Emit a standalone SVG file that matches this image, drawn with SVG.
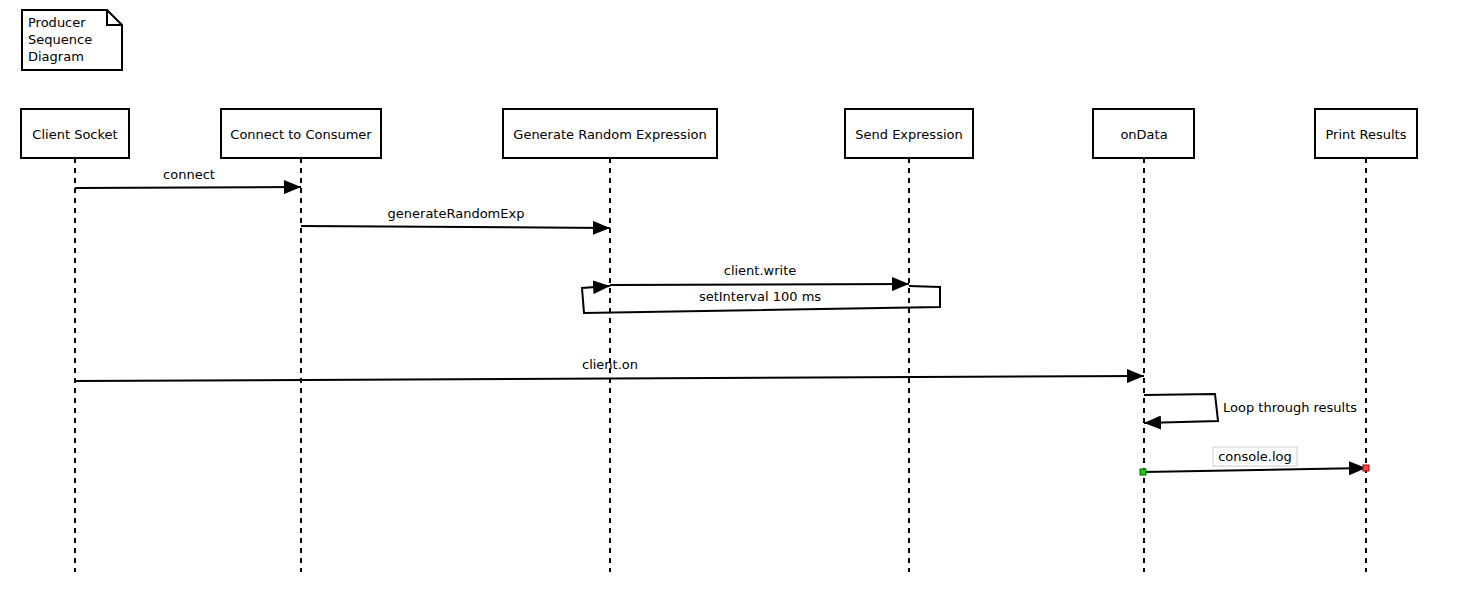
<svg xmlns="http://www.w3.org/2000/svg" width="1466" height="614" viewBox="0 0 1466 614">
<style>
text{font-family:"DejaVu Sans",sans-serif;font-size:13px;fill:#000}
.box{fill:#fff;stroke:#000;stroke-width:2}
.life{stroke:#000;stroke-width:2;stroke-dasharray:5,5;fill:none}
.msg{stroke:#000;stroke-width:2;fill:none;marker-end:url(#arr)}
.mid{text-anchor:middle}
</style>
<defs>
<marker id="arr" markerWidth="17" markerHeight="14" refX="17" refY="7" orient="auto" markerUnits="userSpaceOnUse">
<path d="M0,0 L17,7 L0,14 Z" fill="#000"/>
</marker>
</defs>
<rect width="1466" height="614" fill="#fff"/>
<g id="note">
<path d="M22,10 H107 L122,25 V70 H22 Z" class="box"/>
<path d="M107,10 V25 H122" fill="none" stroke="#000" stroke-width="2"/>
<text x="28" y="27">Producer</text>
<text x="28" y="44">Sequence</text>
<text x="28" y="61">Diagram</text>
</g>
<g id="lifelines">
<line x1="75" y1="158" x2="75" y2="572" class="life"/>
<line x1="301" y1="158" x2="301" y2="572" class="life"/>
<line x1="610" y1="158" x2="610" y2="572" class="life"/>
<line x1="909" y1="158" x2="909" y2="572" class="life"/>
<line x1="1144" y1="158" x2="1144" y2="572" class="life"/>
<line x1="1366" y1="158" x2="1366" y2="572" class="life"/>
</g>
<g id="n1"><rect x="21" y="109" width="108" height="49" class="box"/><text x="75" y="139" class="mid">Client Socket</text></g>
<g id="n2"><rect x="221" y="109" width="160" height="49" class="box"/><text x="301" y="139" class="mid">Connect to Consumer</text></g>
<g id="n3"><rect x="503" y="109" width="214" height="49" class="box"/><text x="610" y="139" class="mid">Generate Random Expression</text></g>
<g id="n4"><rect x="845" y="109" width="128" height="49" class="box"/><text x="909" y="139" class="mid">Send Expression</text></g>
<g id="n5"><rect x="1093" y="109" width="101" height="49" class="box"/><text x="1144" y="139" class="mid">onData</text></g>
<g id="n6"><rect x="1315" y="109" width="102" height="49" class="box"/><text x="1366" y="139" class="mid">Print Results</text></g>
<g id="connectors">
<path d="M75,188 L301,187" class="msg"/>
<text x="189" y="179" class="mid">connect</text>
<path d="M301,226 L610,228" class="msg"/>
<text x="456" y="218" class="mid">generateRandomExp</text>
<path d="M610,285 L909,284" class="msg"/>
<text x="760" y="275" class="mid">client.write</text>
<path d="M909,286 L940,287 L940,307 L584,313 L582,288 L610,286" class="msg"/>
<text x="760" y="301" class="mid">setInterval 100 ms</text>
<path d="M75,381 L1144,376" class="msg"/>
<text x="610" y="369" class="mid">client.on</text>
<path d="M1144,395 L1215,394 L1218,421 L1144,423" class="msg"/>
<text x="1223" y="412">Loop through results</text>
<path d="M1143,472 L1366,468" class="msg"/>
<rect x="1213" y="447" width="84" height="19" fill="#fff" stroke="#ccc" stroke-width="1"/>
<text x="1255" y="461" class="mid">console.log</text>
<rect x="1140" y="469" width="6" height="6" fill="#1c1" stroke="#060" stroke-width="1"/>
<rect x="1363" y="465" width="6" height="6" fill="#f44" stroke="#900" stroke-width="1"/>
</g>
</svg>
